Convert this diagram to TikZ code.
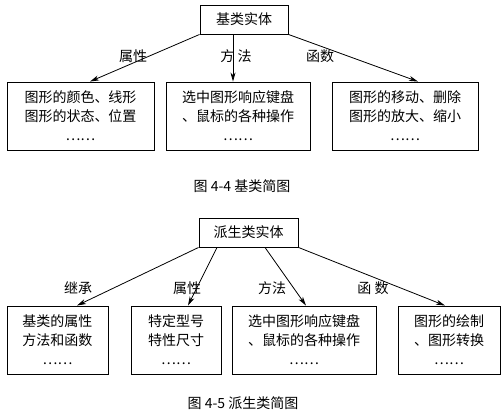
\documentclass[tikz,border=0pt]{standalone}
\usepackage{fontspec}
\setmainfont{Noto Sans CJK SC}
\usetikzlibrary{arrows.meta}

\begin{document}
\begin{tikzpicture}[x=1pt,y=-1pt,
  box/.style={draw,line width=0.9pt,minimum height=68pt,align=center,inner sep=0pt,
    font=\fontsize{14}{19}\selectfont},
  head/.style={draw,line width=0.9pt,minimum height=29pt,inner sep=0pt,font=\fontsize{14}{17}\selectfont},
  lbl/.style={font=\fontsize{14}{17}\selectfont},
  arr/.style={line width=0.8pt,-{Stealth[length=9pt,width=5pt,inset=2.5pt]}}]
  \useasboundingbox (0,0) rectangle (504,415);
  % figure 4-4
  \node[head,minimum width=88pt] (base) at (244,19.5) {基类实体};
  \node[box,minimum width=147pt] (b1) at (80.5,116) {图形的颜色、线形\\图形的状态、位置\\……};
  \node[box,minimum width=144pt] (b2) at (238,116) {选中图形响应键盘\\、鼠标的各种操作\\……};
  \node[box,minimum width=146pt] (b3) at (405,116) {图形的移动、删除\\图形的放大、缩小\\……};
  \draw[arr] (base.south west) -- ([xshift=9.5pt]b1.north);
  \draw[arr] ([xshift=-11pt]base.south) -- ([xshift=-5pt]b2.north);
  \draw[arr] (base.south east) -- ([xshift=13pt]b3.north);
  \node[lbl] (l1) at (133,56) {属性};
  \node[lbl] (l2) at (236,56) {方\ 法};
  \node[lbl] (l3) at (320,56) {函数};
  \node[lbl] (cap1) at (242,186) {图 4-4 基类简图};
  % figure 4-5
  \node[head,minimum width=99pt] (derived) at (248.5,232.5) {派生类实体};
  \node[box,minimum width=101pt] (d1) at (57.5,340) {基类的属性\\方法和函数\\……};
  \node[box,minimum width=90pt] (d2) at (176,340) {特定型号\\特性尺寸\\……};
  \node[box,minimum width=144pt] (d3) at (304,340) {选中图形响应键盘\\、鼠标的各种操作\\……};
  \node[box,minimum width=102pt] (d4) at (449,340) {图形的绘制\\、图形转换\\……};
  \draw[arr] (derived.south west) -- ([xshift=19.5pt]d1.north);
  \draw[arr] ([xshift=-31.5pt]derived.south) -- ([xshift=12pt]d2.north);
  \draw[arr] ([xshift=16.5pt]derived.south) -- ([xshift=2pt]d3.north);
  \draw[arr] (derived.south east) -- ([xshift=-4pt]d4.north);
  \node[lbl] (m1) at (78,288) {继承};
  \node[lbl] (m2) at (187,288) {属性};
  \node[lbl] (m3) at (272,288) {方法};
  \node[lbl] (m4) at (373,288) {函\ 数};
  \node[lbl] (cap2) at (243,403) {图 4-5 派生类简图};
\end{tikzpicture}
\end{document}
